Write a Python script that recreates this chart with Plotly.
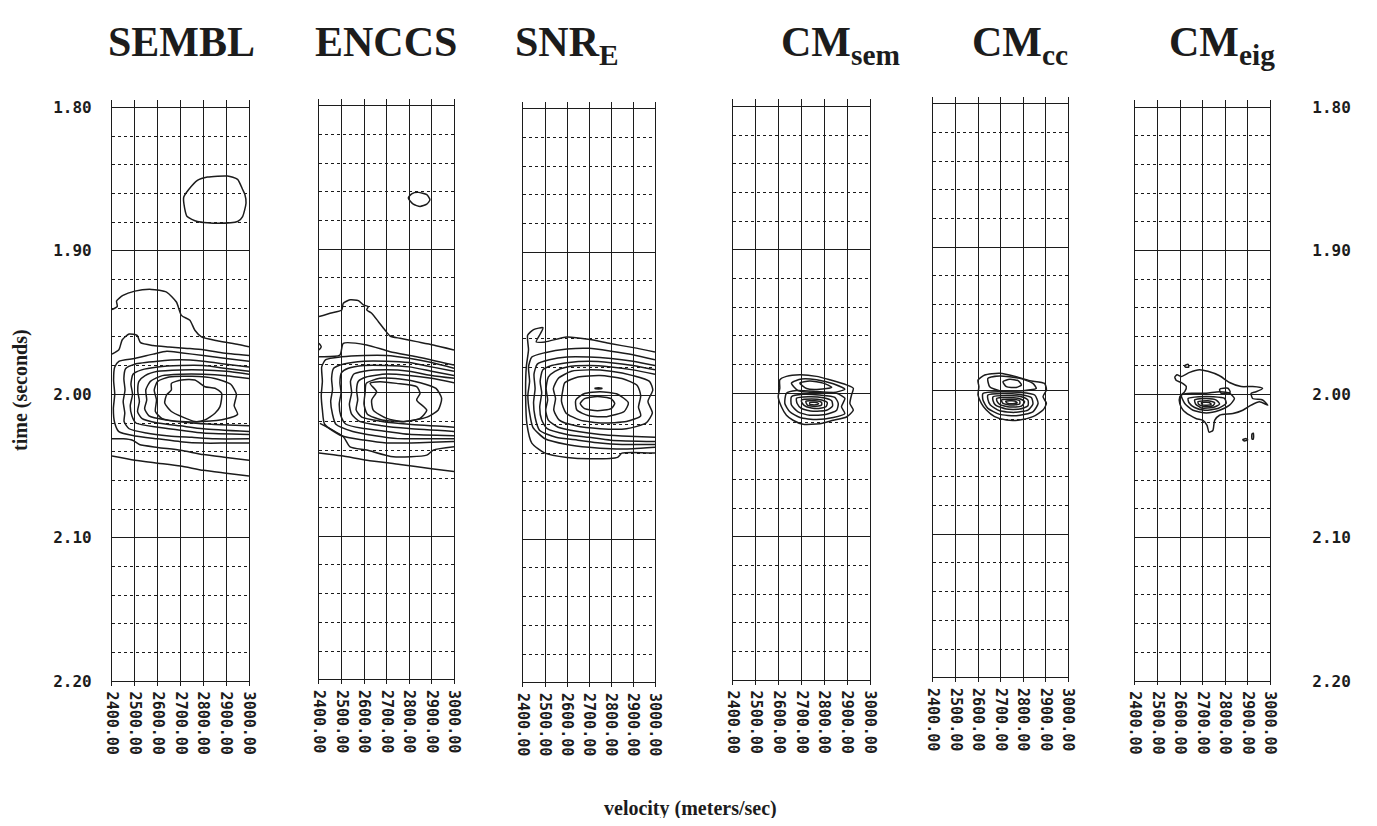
import plotly.graph_objects as go

# ---------------- data ----------------
velocity_ticks = [2400, 2500, 2600, 2700, 2800, 2900, 3000]
velocity_labels = ["2400.00", "2500.00", "2600.00", "2700.00", "2800.00", "2900.00", "3000.00"]
time_ticks = [1.80, 1.90, 2.00, 2.10, 2.20]
time_labels = ["1.80", "1.90", "2.00", "2.10", "2.20"]
time_minor = [1.82, 1.84, 1.86, 1.88, 1.92, 1.94, 1.96, 1.98,
              2.02, 2.04, 2.06, 2.08, 2.12, 2.14, 2.16, 2.18]
panel_titles = ["SEMBL", "ENCCS", "SNR<sub>E</sub>", "CM<sub>sem</sub>", "CM<sub>cc</sub>", "CM<sub>eig</sub>"]

# contour lines: (velocity m/s, time s)
sembl_contours = [
    [(2714,1.8627),(2736,1.8573),(2774,1.8509),(2818,1.8486),(2906,1.8479),(2950,1.8502),(2972,1.8573),
     (2982,1.8608),(2987,1.8667),(2972,1.8761),(2950,1.8796),(2862,1.8808),(2774,1.8796),(2729,1.8761),
     (2718,1.8702),(2714,1.8627)],
    [(2400,1.941),(2423,1.9387),(2420,1.935),(2448,1.9311),(2500,1.9281),(2573,1.9269),(2639,1.9288),
     (2682,1.9357),(2704,1.945),(2741,1.9484),(2763,1.9554),(2792,1.960),(2865,1.9628),(2953,1.9653),(3000,1.9669)],
    [(3000,2.057),(2900,2.055),(2800,2.053),(2700,2.050),(2600,2.048),(2500,2.046),(2400,2.043)],
    [(2400,1.972),(2430,1.969),(2445,1.962),(2475,1.958),(2510,1.959),(2525,1.964),(2580,1.966),(2650,1.967),
     (2730,1.968),(2800,1.969),(2880,1.971),(3000,1.973)],
    [(3000,2.046),(2900,2.044),(2800,2.042),(2700,2.039),(2600,2.037),(2520,2.035),(2490,2.032),(2450,2.031),(2400,2.031)],
    [(3000,1.977),(2900,1.975),(2800,1.973),(2700,1.971),(2640,1.970),(2580,1.972),(2500,1.975),(2430,1.977),
     (2412,1.981),(2407,1.990),(2412,2.000),(2406,2.010),(2412,2.020),(2430,2.026),(2500,2.029),(2600,2.031),
     (2700,2.033),(2800,2.034),(2900,2.034),(3000,2.034)],
    [(3000,1.981),(2900,1.979),(2800,1.977),(2700,1.976),(2600,1.977),(2500,1.979),(2460,1.982),(2452,1.989),
     (2457,1.997),(2449,2.005),(2456,2.013),(2453,2.019),(2475,2.024),(2550,2.027),(2650,2.029),(2750,2.030),
     (2850,2.031),(3000,2.031)],
    [(3000,1.984),(2900,1.982),(2800,1.980),(2700,1.980),(2600,1.981),(2530,1.983),(2492,1.986),(2483,1.993),
     (2490,2.000),(2480,2.008),(2487,2.015),(2505,2.020),(2600,2.023),(2700,2.025),(2800,2.027),(3000,2.028)],
    [(3000,1.986),(2900,1.984),(2800,1.983),(2700,1.983),(2600,1.984),(2545,1.987),(2518,1.991),(2513,1.998),
     (2520,2.005),(2512,2.012),(2532,2.017),(2600,2.020),(2700,2.022),(2800,2.024),(3000,2.026)],
    [(3000,1.989),(2900,1.987),(2800,1.986),(2700,1.986),(2620,1.987),(2568,1.991),(2548,1.997),(2552,2.004),
     (2543,2.010),(2562,2.015),(2640,2.018),(2750,2.020),(2850,2.021),(3000,2.022)],
    [(2600,1.991),(2650,1.988),(2750,1.9875),(2850,1.989),(2920,1.993),(2945,2.000),(2935,2.008),(2950,2.014),
     (2900,2.017),(2800,2.019),(2700,2.019),(2620,2.017),(2590,2.012),(2595,2.004),(2585,1.997),(2600,1.991)],
    [(2660,1.9924),(2704,1.990),(2763,1.990),(2807,1.9947),(2851,1.9958),(2880,1.9993),(2873,2.0086),
     (2851,2.0132),(2807,2.0178),(2763,2.019),(2704,2.0155),(2660,2.012),(2631,2.0062),(2639,2.0005),
     (2660,1.997),(2660,1.9924)],
]

enccs_contours = [
    [(2797,1.8644),(2812,1.8614),(2841,1.8604),(2879,1.862),(2893,1.8656),(2879,1.8686),(2849,1.8702),
     (2819,1.8686),(2797,1.8644)],
    [(2400,1.9656),(2410,1.968),(2400,1.9702)],
    [(2400,1.947),(2449,1.9446),(2501,1.9423),(2508,1.9377),(2538,1.9353),(2575,1.9358),(2597,1.9388),
     (2619,1.940),(2612,1.9423),(2634,1.9446),(2664,1.9505),(2693,1.9563),(2716,1.9605),(2760,1.9621),
     (2834,1.9644),(2908,1.9667),(3000,1.9702)],
    [(2400,2.042),(2500,2.044),(2613,2.047),(2760,2.050),(2900,2.053),(3000,2.055)],
    [(2400,1.9749),(2493,1.9738),(2508,1.9656),(2612,1.9667),(2716,1.9714),(2834,1.9749),(3000,1.9807)],
    [(2404,2.0214),(2508,2.0307),(2538,2.0377),(2612,2.040),(2730,2.0447),(2879,2.0435),(2908,2.040),(3000,2.0377)],
    [(3000,1.983),(2900,1.979),(2800,1.976),(2700,1.974),(2600,1.974),(2500,1.975),(2430,1.977),(2412,1.982),
     (2415,1.992),(2410,2.002),(2415,2.012),(2425,2.022),(2500,2.030),(2600,2.033),(2700,2.035),(2800,2.035),
     (2900,2.0345),(3000,2.034)],
    [(3000,1.985),(2900,1.982),(2800,1.979),(2700,1.978),(2600,1.978),(2510,1.980),(2465,1.983),(2456,1.990),
     (2460,1.998),(2452,2.006),(2460,2.015),(2475,2.022),(2550,2.027),(2650,2.030),(2750,2.032),(2900,2.032),(3000,2.032)],
    [(3000,1.988),(2900,1.985),(2800,1.982),(2700,1.981),(2600,1.981),(2530,1.983),(2500,1.986),(2493,1.993),
     (2498,2.000),(2490,2.008),(2497,2.016),(2520,2.022),(2600,2.025),(2700,2.027),(2800,2.029),(3000,2.030)],
    [(3000,1.990),(2900,1.988),(2800,1.985),(2700,1.984),(2600,1.985),(2555,1.987),(2540,1.992),(2545,2.000),
     (2535,2.008),(2545,2.015),(2580,2.020),(2680,2.023),(2800,2.025),(3000,2.027)],
    [(3000,1.993),(2900,1.990),(2800,1.988),(2700,1.987),(2610,1.989),(2575,1.992),(2567,1.998),(2572,2.005),
     (2565,2.012),(2590,2.017),(2680,2.020),(2800,2.022),(3000,2.024)],
    [(2610,1.9935),(2670,1.990),(2760,1.9905),(2850,1.993),(2920,1.997),(2945,2.004),(2930,2.012),(2880,2.017),
     (2780,2.020),(2680,2.019),(2615,2.015),(2600,2.008),(2605,2.000),(2610,1.9935)],
    [(2627,1.9935),(2671,1.9923),(2745,1.9935),(2834,1.9958),(2849,2.0005),(2834,2.0051),(2879,2.0121),
     (2849,2.0179),(2775,2.0202),(2701,2.0179),(2641,2.0121),(2634,2.0051),(2656,1.9993),(2627,1.9935)],
]

snre_contours = [
    [(3000,1.9695),(2902,1.9665),(2796,1.9637),(2705,1.9609),(2599,1.9591),(2501,1.9625),(2460,1.9625),
     (2479,1.9568),(2491,1.9526),(2448,1.954),(2421,1.9579),(2425,1.968),(2415,1.980),(2412,2.000),(2418,2.020),
     (2440,2.033),(2500,2.040),(2600,2.043),(2700,2.044),(2830,2.043),(2850,2.040),(3000,2.040)],
    [(3000,1.975),(2900,1.9715),(2800,1.969),(2700,1.967),(2600,1.9675),(2500,1.970),(2440,1.973),(2425,1.980),
     (2430,1.990),(2422,2.000),(2430,2.012),(2445,2.022),(2500,2.030),(2600,2.034),(2700,2.036),(2800,2.037),
     (2900,2.037),(3000,2.036)],
    [(3000,1.979),(2900,1.976),(2800,1.974),(2700,1.973),(2600,1.973),(2520,1.975),(2465,1.978),(2450,1.985),
     (2455,1.995),(2448,2.005),(2455,2.015),(2475,2.024),(2550,2.029),(2650,2.031),(2750,2.033),(2850,2.034),(3000,2.034)],
    [(3000,1.982),(2900,1.979),(2800,1.977),(2700,1.976),(2600,1.977),(2530,1.979),(2490,1.982),(2478,1.990),
     (2485,1.998),(2476,2.008),(2485,2.017),(2510,2.023),(2600,2.027),(2700,2.029),(2800,2.031),(3000,2.032)],
    [(3000,1.985),(2900,1.982),(2800,1.980),(2700,1.979),(2600,1.980),(2545,1.983),(2515,1.987),(2505,1.995),
     (2512,2.003),(2503,2.010),(2515,2.017),(2560,2.022),(2650,2.025),(2750,2.027),(2850,2.028),(3000,2.029)],
    [(2560,1.988),(2620,1.983),(2700,1.982),(2800,1.983),(2900,1.986),(2975,1.990),(2990,1.996),(2968,2.004),
     (2988,2.012),(2960,2.019),(2870,2.023),(2750,2.023),(2640,2.021),(2565,2.017),(2540,2.010),(2548,2.002),
     (2538,1.995),(2560,1.988)],
    [(2590,1.991),(2650,1.987),(2750,1.986),(2850,1.988),(2920,1.993),(2935,2.000),(2925,2.008),(2935,2.014),
     (2870,2.018),(2760,2.019),(2660,2.017),(2595,2.012),(2575,2.004),(2580,1.997),(2590,1.991)],
    [(2640,2.003),(2680,1.9985),(2750,1.9972),(2830,1.999),(2879,2.005),(2860,2.011),(2780,2.0146),(2700,2.014),
     (2645,2.010),(2640,2.003)],
    [(2660,2.0055),(2680,2.002),(2738,2.0006),(2800,2.002),(2817,2.0055),(2800,2.009),(2738,2.0104),(2680,2.009),
     (2660,2.0055)],
    [(2728,1.9947),(2758,1.9947),(2758,1.9952),(2728,1.9952),(2728,1.9947)],
]

cmsem_contours = [
    [(2605,1.9906),(2634,1.9882),(2693,1.9871),(2766,1.9882),(2824,1.9906),(2897,1.9941),(2927,1.9965),
     (2919,2.0012),(2912,2.0071),(2927,2.0118),(2897,2.0165),(2839,2.0188),(2780,2.0212),(2707,2.0216),
     (2663,2.0188),(2634,2.0153),(2612,2.0094),(2598,2.0024),(2605,1.9965),(2605,1.9906)],
    [(2656,1.9929),(2700,1.9901),(2766,1.9906),(2839,1.9934),(2890,1.9972),(2839,1.9995),(2751,1.9995),
     (2685,1.9981),(2656,1.9929)],
    [(2693,1.9929),(2736,1.9915),(2795,1.9929),(2832,1.9958),(2780,1.9972),(2722,1.9967),(2693,1.9929)],
    [(2634,2.000),(2678,1.9981),(2766,1.9988),(2854,2.000),(2890,2.0035),(2875,2.0094),(2890,2.0141),
     (2839,2.0169),(2766,2.0183),(2693,2.0169),(2649,2.0129),(2627,2.0071),(2634,2.000)],
    [(2656,2.0024),(2707,2.0007),(2780,2.0012),(2846,2.0028),(2861,2.0071),(2854,2.0118),(2810,2.0146),
     (2736,2.0153),(2685,2.0129),(2656,2.0082),(2656,2.0024)],
    [(2678,2.0035),(2729,2.0024),(2795,2.0031),(2832,2.0052),(2836,2.0089),(2810,2.0118),(2751,2.0125),
     (2700,2.0106),(2681,2.0071),(2678,2.0035)],
    [(2700,2.0047),(2744,2.004),(2788,2.0047),(2813,2.0066),(2807,2.0094),(2766,2.0106),(2722,2.0094),
     (2704,2.0071),(2700,2.0047)],
    [(2719,2.0056),(2758,2.0052),(2788,2.0064),(2788,2.0082),(2758,2.0092),(2726,2.0082),(2719,2.0056)],
    [(2736,2.0066),(2766,2.0064),(2775,2.0073),(2763,2.008),(2737,2.0078),(2736,2.0066)],
]

cmcc_contours = [
    [(2600,1.9926),(2630,1.9891),(2696,1.9879),(2770,1.9902),(2830,1.993),(2896,1.9949),(2904,1.9995),
     (2889,2.0042),(2904,2.0088),(2889,2.0135),(2844,2.0181),(2785,2.0205),(2726,2.0205),(2674,2.0181),
     (2637,2.0135),(2615,2.0088),(2600,2.003),(2604,1.9972),(2600,1.9926)],
    [(2644,1.9914),(2696,1.9898),(2785,1.9914),(2844,1.9949),(2859,1.9984),(2800,2.000),(2696,2.000),
     (2652,1.9972),(2644,1.9914)],
    [(2711,1.9937),(2741,1.9921),(2778,1.993),(2793,1.996),(2770,1.9977),(2726,1.9972),(2711,1.9937)],
    [(2622,2.0019),(2696,2.0007),(2785,2.0012),(2852,2.003),(2867,2.0088),(2844,2.0147),(2770,2.0174),
     (2696,2.0165),(2644,2.0123),(2622,2.0065),(2622,2.0019)],
    [(2644,2.003),(2711,2.0019),(2785,2.0026),(2837,2.0047),(2844,2.0093),(2822,2.0135),(2763,2.0151),
     (2696,2.014),(2655,2.010),(2644,2.006),(2644,2.003)],
    [(2667,2.0042),(2726,2.0033),(2793,2.0042),(2822,2.0065),(2822,2.0105),(2785,2.0128),(2726,2.0128),
     (2678,2.010),(2667,2.007),(2667,2.0042)],
    [(2684,2.0053),(2733,2.0047),(2785,2.0056),(2807,2.0077),(2793,2.0107),(2741,2.0114),(2696,2.0095),
     (2684,2.0072),(2684,2.0053)],
    [(2704,2.0065),(2748,2.006),(2785,2.007),(2785,2.0093),(2748,2.010),(2711,2.0088),(2704,2.0065)],
    [(2723,2.0074),(2763,2.0072),(2774,2.0084),(2756,2.0091),(2730,2.0086),(2723,2.0074)],
]

cmeig_contours = [
    [(2606,1.9878),(2643,1.9849),(2687,1.9831),(2724,1.9842),(2776,1.9873),(2820,1.992),(2872,1.9948),
     (2923,1.9948),(2967,1.996),(2938,1.9984),(2916,1.9995),(2923,2.0031),(2967,2.0042),(2990,2.0078),
     (2953,2.0054),(2916,2.0078),(2879,2.0113),(2835,2.0136),(2776,2.0148),(2754,2.0184),(2746,2.0254),
     (2729,2.0266),(2720,2.0219),(2702,2.0184),(2673,2.0172),(2643,2.0148),(2614,2.0113),(2599,2.0066),
     (2599,2.0019),(2621,1.9984),(2628,1.9948),(2606,1.992),(2584,1.9906),(2577,1.9882),(2587,1.9866),(2606,1.9878)],
    [(2606,2.0007),(2658,1.9995),(2717,1.9995),(2776,1.9984),(2820,1.9995),(2842,2.0031),(2820,2.0078),
     (2776,2.0113),(2717,2.0132),(2658,2.0113),(2621,2.0066),(2606,2.0007)],
    [(2636,2.0031),(2687,2.0019),(2746,2.0019),(2798,2.0031),(2805,2.0066),(2768,2.0101),(2710,2.0113),
     (2665,2.0094),(2640,2.0061),(2636,2.0031)],
    [(2665,2.0042),(2717,2.0031),(2761,2.0042),(2776,2.0071),(2746,2.0094),(2695,2.0097),(2670,2.0071),(2665,2.0042)],
    [(2680,2.0054),(2724,2.0047),(2754,2.0061),(2746,2.0082),(2702,2.0085),(2683,2.0071),(2680,2.0054)],
    [(2695,2.0061),(2729,2.0059),(2739,2.0071),(2720,2.0078),(2699,2.0075),(2695,2.0061)],
    [(2776,1.9967),(2813,1.996),(2823,1.9988),(2783,1.9995),(2776,1.9967)],
    [(2621,1.9802),(2636,1.9793),(2639,1.9812),(2624,1.9812),(2621,1.9802)],
    [(2879,2.0318),(2894,2.0311),(2901,2.032),(2886,2.0327),(2879,2.0318)],
    [(2920,2.0278),(2926,2.0273),(2926,2.0313),(2920,2.0313),(2920,2.0278)],
]

all_contours = [sembl_contours, enccs_contours, snre_contours, cmsem_contours, cmcc_contours, cmeig_contours]

# ---------------- layout (pixels of the 1377x826 window) ----------------
OFF = 8                      # default page margin of the html body
W, H = 1377 - 2 * OFF, 826 - 2 * OFF
PX_PER_SEC = 1435.0
panel_px = [(112, 249, 394.3), (319, 454, 392.7), (523, 655, 395.7),
            (733, 870, 393.3), (933, 1068, 390.7), (1135, 1270, 394.0)]
title_cx = [181, 386, 567, 840, 1020, 1222]
Y_TOP, Y_BOT = 1.795, 2.203
INK = "#1c1c1c"
YFONT = dict(family="DejaVu Sans Mono", size=16, color=INK, weight="bold")
XFONT = dict(family="DejaVu Sans Mono", size=15, color=INK, weight="bold")
SERIF = "Liberation Serif"


def fx(px):
    return (px - OFF) / W


def fy(py):
    return 1 - (py - OFF) / H


fig = go.Figure()
layout = dict(width=W, height=H, margin=dict(l=0, r=0, t=0, b=0, autoexpand=False),
              paper_bgcolor="white", plot_bgcolor="white", showlegend=False)

for i, (x0, x1, y2) in enumerate(panel_px):
    k = "" if i == 0 else str(i + 1)
    top_px = y2 - (2.0 - Y_TOP) * PX_PER_SEC
    bot_px = y2 + (Y_BOT - 2.0) * PX_PER_SEC
    layout["xaxis" + k] = dict(
        domain=[fx(x0), fx(x1)], range=[2400, 3000], anchor="y" + k, automargin=False,
        tickmode="array", tickvals=velocity_ticks, ticktext=velocity_labels,
        tickangle=90, tickfont=XFONT, ticks="", showgrid=True, gridcolor=INK, gridwidth=1.2,
        zeroline=False, showline=False, fixedrange=True, ticklabelstandoff=5)
    show_lab = i in (0, 5)
    layout["yaxis" + k] = dict(
        domain=[fy(bot_px), fy(top_px)], range=[Y_BOT, Y_TOP], anchor="x" + k,
        automargin=False, tickmode="array", tickvals=time_ticks, ticktext=time_labels,
        showticklabels=show_lab, side="right" if i == 5 else "left",
        ticklabelstandoff=38 if i == 5 else 16,
        tickfont=YFONT, ticks="", showgrid=True, gridcolor=INK, gridwidth=1.2,
        zeroline=False, showline=True, mirror=True, linecolor=INK, linewidth=1.2,
        fixedrange=True,
        minor=dict(tickmode="array", tickvals=time_minor, showgrid=True,
                   gridcolor=INK, gridwidth=1, griddash="3px,3px", ticks=""))
    for c in all_contours[i]:
        fig.add_trace(go.Scatter(
            x=[p[0] for p in c], y=[p[1] for p in c], mode="lines",
            line=dict(color=INK, width=1.5, shape="spline", smoothing=0.6),
            xaxis="x" + k, yaxis="y" + k, hoverinfo="skip", showlegend=False))

annotations = []
for cx, txt in zip(title_cx, panel_titles):
    annotations.append(dict(x=fx(cx), y=fy(17), xref="paper", yref="paper",
                            xanchor="center", yanchor="top", showarrow=False,
                            text="<b>" + txt + "</b>",
                            font=dict(family=SERIF, size=42, color=INK)))
annotations.append(dict(x=fx(20), y=fy(390), xref="paper", yref="paper",
                        xanchor="center", yanchor="middle", showarrow=False, textangle=-90,
                        text="<b>time (seconds)</b>", font=dict(family=SERIF, size=20, color=INK)))
annotations.append(dict(x=fx(690), y=fy(808), xref="paper", yref="paper",
                        xanchor="center", yanchor="middle", showarrow=False,
                        text="<b>velocity (meters/sec)</b>", font=dict(family=SERIF, size=20, color=INK)))
layout["annotations"] = annotations

fig.update_layout(**layout)
fig.write_html("out.html")
